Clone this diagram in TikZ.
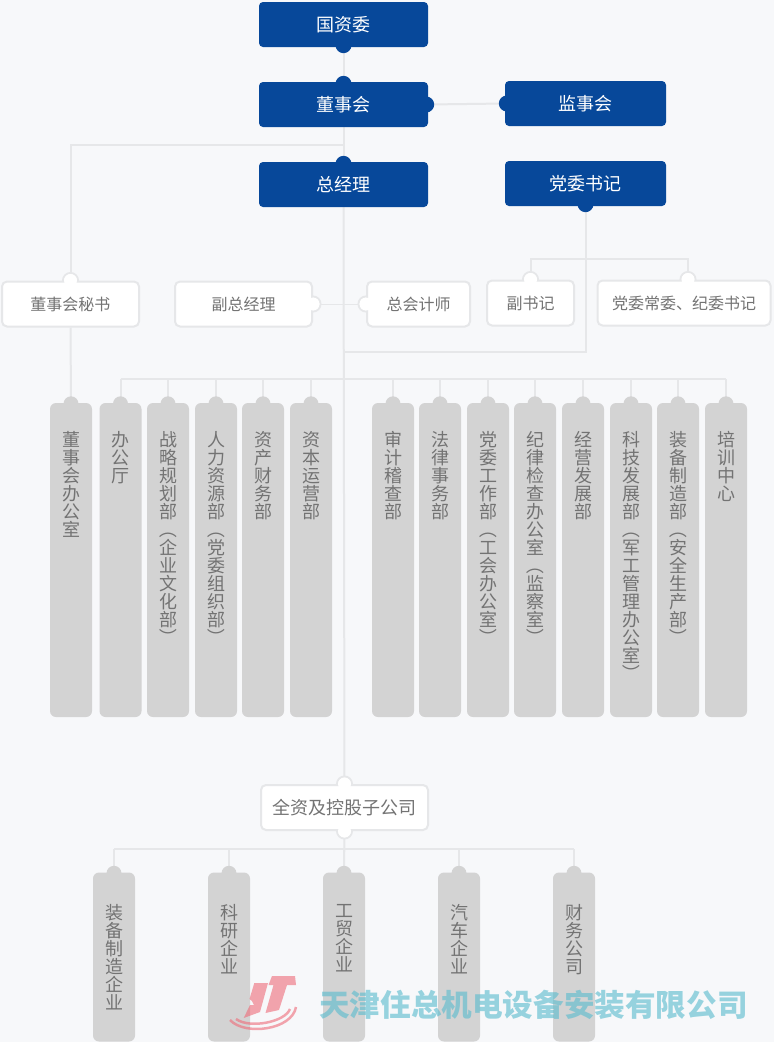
\documentclass[tikz,border=0pt]{standalone}
\usepackage{fontspec}
\usepackage{graphicx}
\setmainfont{Noto Sans CJK SC}
\usetikzlibrary{positioning,backgrounds,calc}
\definecolor{pagebg}{HTML}{F7F8FA}
\definecolor{navy}{HTML}{07489A}
\definecolor{linegray}{HTML}{E6E7E9}
\definecolor{deptgray}{HTML}{D3D3D3}
\definecolor{inkgray}{HTML}{737373}
\definecolor{wmteal}{HTML}{5BBBCE}
\definecolor{wmpink}{HTML}{EE6B78}
\def\vnext#1{\ifx#1\relax\else#1\par\expandafter\vnext\fi}
\newcommand{\vtext}[1]{\expandafter\vnext#1\relax}
\newcommand{\po}{\smash{\makebox[18pt]{\rotatebox[origin=c]{-90}{（}}}}
\newcommand{\pc}{\smash{\makebox[18pt]{\rotatebox[origin=c]{-90}{）}}}}
\tikzset{
  headbox/.style={fill=navy, text=white, rounded corners=4pt, minimum height=45pt, inner sep=0pt, font=\fontsize{18}{18}\selectfont},
  postbox/.style={fill=white, draw=linegray, line width=2pt, text=inkgray, rounded corners=5pt, minimum height=45pt, inner sep=0pt, font=\fontsize{16}{16}\selectfont},
  deptbox/.style={fill=deptgray, rounded corners=6pt, minimum width=42pt, inner sep=0pt},
  depttext/.style={text=inkgray, text width=20pt, align=center, inner sep=0pt, font=\fontsize{18}{18}\selectfont},
  link/.style={draw=linegray, line width=2pt},
}
\begin{document}
\begin{tikzpicture}[x=1pt, y=-1pt]
  \useasboundingbox (0,0) rectangle (774,1042);
  \begin{scope}[on background layer]
    \fill[pagebg] (0,0) rectangle (774,1042);
  \end{scope}
  % top boxes
  \node[headbox, minimum width=169pt] (gzw) at (343.5,24.5) {国资委};
  \node[headbox, minimum width=169pt] (dsh) at (343.5,104.5) {董事会};
  \node[headbox, minimum width=169pt] (zjl) at (343.5,184.5) {总经理};
  \node[headbox, minimum width=161pt] (jsh) at (585.5,103.5) {监事会};
  \node[headbox, minimum width=161pt] (dwsj) at (585.5,183.5) {党委书记};
  % white boxes
  \node[postbox, minimum width=137pt] (dms) at (70.5,304) {董事会秘书};
  \node[postbox, minimum width=137pt] (fzjl) at (243.5,304) {副总经理};
  \node[postbox, minimum width=103pt] (zkjs) at (418.5,304) {总会计师};
  \node[postbox, minimum width=87pt] (fsj) at (530.5,303) {副书记};
  \node[postbox, minimum width=173pt] (dwcw) at (684,303) {党委常委、纪委书记};
  \node[postbox, minimum width=167pt, font=\fontsize{18}{18}\selectfont] (qzgs) at (344.5,807.5) {全资及控股子公司};
  % departments
  \foreach \i/\x/\t in {0/71/董事会办公室, 1/120.5/办公厅, 2/168/战略规划部\po 企业文化部\pc, 3/216/人力资源部\po 党委组织部\pc,
      4/263/资产财务部, 5/311/资本运营部, 6/393/审计稽查部, 7/440/法律事务部, 8/488/党委工作部\po 工会办公室\pc,
      9/535/纪律检查办公室\po 监察室\pc, 10/583/经营发展部, 11/631/科技发展部\po 军工管理办公室\pc,
      12/678/装备制造部\po 安全生产部\pc, 13/726/培训中心}{
    \node[deptbox, minimum height=314pt] (d\i) at (\x,560) {};
    \node[depttext, anchor=north, below=28pt of d\i.north] (dt\i) {\vtext\t};
  }
  % companies
  \foreach \i/\x/\t in {1/114/装备制造企业, 2/229/科研企业, 3/344/工贸企业, 4/459/汽车企业, 5/574/财务公司}{
    \node[deptbox, minimum height=169pt] (c\i) at (\x,957) {};
    \node[depttext, anchor=north, below=31.5pt of c\i.north] (ct\i) {\vtext\t};
  }
  \coordinate (jdms) at (344,145);
  \coordinate (jfsj) at (586,259);
  \coordinate (jcw) at (688,259);
  \coordinate (jdw) at (344,352);
  \coordinate (jbar) at (344,379);
  \coordinate (jlow) at (344,849);
  \begin{scope}[on background layer]
    \draw[link] (gzw.south) -- (dsh.north);
    \draw[link] (dsh.south) -- (zjl.north);
    \draw[link] (zjl.south) -- (qzgs.north);
    \draw[link] (dsh.east) -- (jsh.west);
    \draw[link] (jdms) -| (dms.north);
    \draw[link] (dms.south) -- (d0.north);
    \draw[link, line width=1pt] (fzjl.east) -- (zkjs.west);
    \draw[link] (dwsj.south) |- (jdw);
    \draw[link] (jfsj) -| (fsj.north);
    \draw[link] (jfsj) -- (jcw) -- (jcw |- dwcw.north);
    \draw[link] (d1.north |- jbar) -- (d13.north |- jbar);
    \foreach \i in {1,...,13} \draw[link] (d\i.north) -- (d\i.north |- jbar);
    \draw[link] (qzgs.south) -- (c3.north);
    \draw[link] (c1.north |- jlow) -- (c5.north |- jlow);
    \foreach \i in {1,...,5} \draw[link] (c\i.north) -- (c\i.north |- jlow);
    % white lugs, outline part
    \foreach \p in {dms.north, fzjl.east, zkjs.west, fsj.north, jcw |- dwcw.north, qzgs.north, qzgs.south}
      \filldraw[fill=white, draw=linegray, line width=2pt] (\p) circle (7.5pt);
  \end{scope}
  % lugs
  \foreach \n/\a in {gzw/south, dsh/north, dsh/east, zjl/north, jsh/west, dwsj/south}
    \fill[navy] ($(\n.\a)!2pt!(\n.center)$) circle (8pt);
  \foreach \p in {dms.north, fzjl.east, zkjs.west, fsj.north, jcw |- dwcw.north, qzgs.north, qzgs.south}
    \fill[white] (\p) circle (6.5pt);
  \foreach \i in {0,...,13} \fill[deptgray] ($(d\i.north)+(0,1)$) circle (7.5pt);
  \foreach \i in {1,...,5} \fill[deptgray] ($(c\i.north)+(0,1)$) circle (7.5pt);
  % watermark
  \node[text=wmteal, opacity=.62, font=\fontsize{30.6}{30.6}\selectfont\bfseries, inner sep=0pt] (wmname) at (533.5,1004.5) {天津住总机电设备安装有限公司};
  \fill[wmpink, opacity=.6] (254.3,983) -- (268,983) -- (260,1012) -- (243.7,1018) -- (250,1005) -- (254,1005) -- (252,1001) -- (249.5,999) -- cycle;
  \fill[wmpink, opacity=.6] (272,976) -- (295,976) -- (296,985) -- (287,985) -- (279,1010) -- (265.5,1013) -- (273.5,985) -- (268.5,985) -- cycle;
  \draw[wmpink, opacity=.6, line width=2.5pt] (230,1020) .. controls (245,1036) and (292,1030) .. (296,1007);
  \draw[wmpink, opacity=.6, line width=2.5pt] (236,1019) .. controls (250,1029) and (285,1022) .. (290,1009);
\end{tikzpicture}
\end{document}
